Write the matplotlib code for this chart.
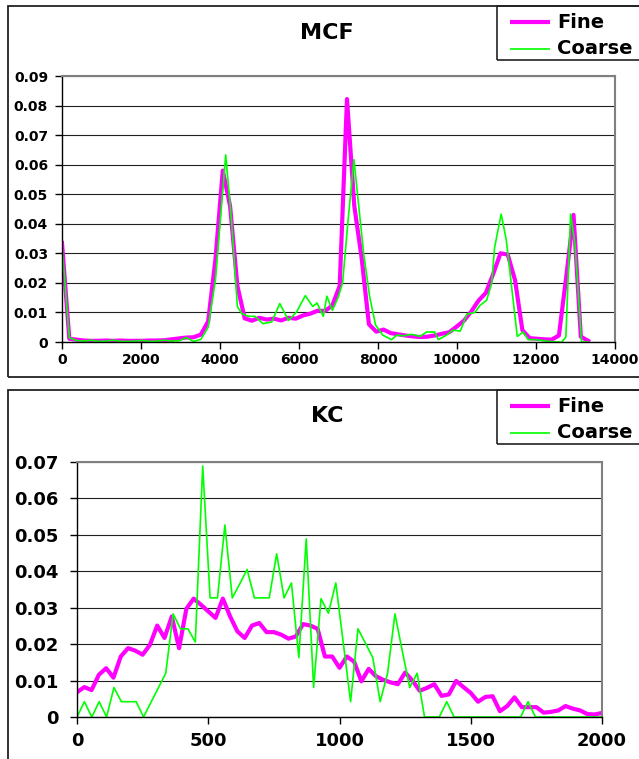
import numpy as np
import matplotlib
matplotlib.use('Agg')
import matplotlib.pyplot as plt
from matplotlib.patches import Rectangle
from matplotlib.lines import Line2D

# ---------------- data: MCF ----------------
mcf_fine_x = np.arange(0, 13321, 185)
mcf_fine = [0.0335, 0.0011, 0.0008, 0.0005, 0.0004, 0.0004, 0.0005, 0.0004, 0.0005, 0.0004,
            0.0004, 0.0004, 0.0005, 0.0005, 0.0006, 0.0009, 0.0012, 0.0015, 0.0016, 0.0025,
            0.0070, 0.0280, 0.0580, 0.0460, 0.0190, 0.0080, 0.0072, 0.0082, 0.0076, 0.0079,
            0.0073, 0.0082, 0.0079, 0.0090, 0.0096, 0.0106, 0.0105, 0.0124, 0.0190, 0.0822,
            0.0460, 0.0285, 0.0060, 0.0035, 0.0042, 0.0030, 0.0026, 0.0022, 0.0019, 0.0017,
            0.0018, 0.0022, 0.0028, 0.0033, 0.0052, 0.0072, 0.0103, 0.0140, 0.0166, 0.0230,
            0.0300, 0.0296, 0.0209, 0.0040, 0.0013, 0.0011, 0.0009, 0.0008, 0.0022, 0.0220,
            0.0430, 0.0018, 0.0004]
mcf_coarse_x = [0, 185, 370, 555, 740, 925, 1110, 1295, 1480, 1665, 1850, 2035, 2220, 2405,
                2590, 2775, 2960, 3145, 3330, 3515, 3700, 3885, 4144, 4292, 4440, 4551, 4718,
                4884, 5088, 5310, 5513, 5735, 5939, 6161, 6346, 6457, 6614, 6706, 6845, 6993,
                7104, 7234, 7391, 7493, 7641, 7789, 7937, 8122, 8344, 8473, 8658, 8843, 9065,
                9232, 9435, 9528, 9731, 9898, 10083, 10249, 10453, 10582, 10749, 10878, 10952,
                11119, 11248, 11526, 11674, 11803, 12007, 12266, 12525, 12654, 12756, 12876,
                12987, 13154, 13320]
mcf_coarse = [0.0325, 0.0015, 0.0005, 0.0003, 0.0006, 0.0002, 0.0003, 0.0006, 0.0002, 0.0002,
              0.0003, 0.0005, 0.0002, 0.0003, 0.0006, 0.0003, 0.0004, 0.0015, 0.0002, 0.0009,
              0.0050, 0.0210, 0.0633, 0.0410, 0.0120, 0.0096, 0.0087, 0.0087, 0.0062, 0.0068,
              0.0130, 0.0073, 0.0102, 0.0157, 0.0120, 0.0132, 0.0087, 0.0155, 0.0107, 0.0152,
              0.0200, 0.0400, 0.0617, 0.0485, 0.0295, 0.0153, 0.0058, 0.0023, 0.0008, 0.0023,
              0.0021, 0.0026, 0.0019, 0.0034, 0.0034, 0.0008, 0.0023, 0.0040, 0.0037, 0.0094,
              0.0100, 0.0124, 0.0141, 0.0198, 0.0320, 0.0433, 0.0345, 0.0019, 0.0034, 0.0008,
              0.0008, 0.0003, 0.0000, 0.0000, 0.0017, 0.0433, 0.0330, 0.0000, 0.0000]
mcf_xticks = [0, 2000, 4000, 6000, 8000, 10000, 12000, 14000]
mcf_yticks = [0, 0.01, 0.02, 0.03, 0.04, 0.05, 0.06, 0.07, 0.08, 0.09]
mcf_ylabels = ['0', '0.01', '0.02', '0.03', '0.04', '0.05', '0.06', '0.07', '0.08', '0.09']

# ---------------- data: KC ----------------
kc_fine_x = np.linspace(0, 2000, 73)
kc_fine = [0.0068, 0.0082, 0.0074, 0.0116, 0.0134, 0.0108, 0.0166, 0.0189, 0.0182, 0.0171,
           0.0198, 0.0251, 0.0217, 0.0276, 0.0189, 0.0297, 0.0325, 0.0308, 0.0290, 0.0272,
           0.0325, 0.0276, 0.0235, 0.0217, 0.0251, 0.0258, 0.0233, 0.0233, 0.0226, 0.0215,
           0.0221, 0.0255, 0.0251, 0.0242, 0.0166, 0.0166, 0.0135, 0.0166, 0.0152, 0.0098,
           0.0132, 0.0112, 0.0102, 0.0095, 0.0090, 0.0122, 0.0100, 0.0072, 0.0080, 0.0090,
           0.0058, 0.0062, 0.0099, 0.0082, 0.0066, 0.0042, 0.0055, 0.0057, 0.0016, 0.0030,
           0.0054, 0.0027, 0.0027, 0.0027, 0.0012, 0.0014, 0.0018, 0.0030, 0.0023, 0.0018,
           0.0008, 0.0007, 0.0011]
kc_coarse_x = np.linspace(0, 2000, 72)
kc_coarse = [0.0, 0.0042, 0.0, 0.0042, 0.0, 0.0081, 0.0042, 0.0042, 0.0042, 0.0,
             0.0040, 0.0080, 0.0120, 0.0283, 0.0242, 0.0242, 0.0206, 0.0689, 0.0327, 0.0327,
             0.0527, 0.0327, 0.0365, 0.0405, 0.0327, 0.0327, 0.0327, 0.0448, 0.0327, 0.0368,
             0.0163, 0.0489, 0.0081, 0.0325, 0.0285, 0.0368, 0.0205, 0.0042, 0.0242, 0.0203,
             0.0163, 0.0042, 0.0120, 0.0283, 0.0180, 0.0081, 0.0120, 0.0, 0.0, 0.0,
             0.0042, 0.0, 0.0, 0.0, 0.0, 0.0, 0.0, 0.0, 0.0, 0.0,
             0.0, 0.0042, 0.0, 0.0, 0.0, 0.0, 0.0, 0.0, 0.0, 0.0,
             0.0, 0.0]
kc_xticks = [0, 500, 1000, 1500, 2000]
kc_yticks = [0, 0.01, 0.02, 0.03, 0.04, 0.05, 0.06, 0.07]
kc_ylabels = ['0', '0.01', '0.02', '0.03', '0.04', '0.05', '0.06', '0.07']

series_labels = ['Fine', 'Coarse']
FINE_C = '#FF00FF'
COARSE_C = '#00FF00'

# ---------------- figure ----------------
W, H = 639, 759
fig = plt.figure(figsize=(W / 100, H / 100), dpi=100)
plt.rcParams['font.family'] = ['DejaVu Sans']


def fx(x):
    return x / W


def fy(y):
    return 1 - y / H


def rect_px(x0, y0, x1, y1, **kw):
    r = Rectangle((fx(x0), fy(y1)), fx(x1) - fx(x0), fy(y0) - fy(y1),
                  transform=fig.transFigure, fill=False, **kw)
    fig.add_artist(r)


def legend_px(top):
    rect_px(497, top, 700, top + 54, edgecolor='#222222', lw=1.2)
    for k, (lab, col, lw) in enumerate([(series_labels[0], FINE_C, 3.0),
                                        (series_labels[1], COARSE_C, 1.2)]):
        yy = top + 16 + 27 * k
        fig.add_artist(Line2D([fx(510), fx(550)], [fy(yy), fy(yy)],
                              transform=fig.transFigure, color=col, lw=lw,
                              solid_capstyle='butt'))
        fig.text(fx(557), fy(yy), lab, fontsize=14, fontweight='bold',
                 va='center', ha='left')


def style_axes(ax, tick_fs, ticklen, ypad, xpad):
    ax.set_facecolor('white')
    for s in ('left', 'bottom'):
        ax.spines[s].set_color('black')
        ax.spines[s].set_linewidth(1.0)
    for s in ('top', 'right'):
        ax.spines[s].set_color('#808080')
        ax.spines[s].set_linewidth(1.5)
    ax.yaxis.grid(True, color='#202020', lw=0.8)
    ax.set_axisbelow(True)
    ax.tick_params(axis='both', direction='out', length=ticklen, width=1.0,
                   color='black', labelsize=tick_fs)
    ax.tick_params(axis='y', pad=ypad)
    ax.tick_params(axis='x', pad=xpad)
    for lbl in ax.get_xticklabels() + ax.get_yticklabels():
        lbl.set_fontweight('bold')


# outer frames
rect_px(8, 6, 700, 377, edgecolor='#222222', lw=1.3)
rect_px(8, 390, 700, 800, edgecolor='#222222', lw=1.3)

# ---- top chart MCF ----
ax1 = fig.add_axes([fx(62), fy(342), fx(615) - fx(62), fy(76) - fy(342)])
ax1.plot(mcf_fine_x, mcf_fine, color=FINE_C, lw=3.0, solid_joinstyle='round')
ax1.plot(mcf_coarse_x, mcf_coarse, color=COARSE_C, lw=1.2)
ax1.set_xlim(0, 14000)
ax1.set_ylim(0, 0.09)
ax1.set_xticks(mcf_xticks)
ax1.set_xticklabels([str(t) for t in mcf_xticks])
ax1.set_yticks(mcf_yticks)
ax1.set_yticklabels(mcf_ylabels)
style_axes(ax1, 10, 5, 5, 3)
fig.text(fx(327), fy(33), 'MCF', fontsize=16, fontweight='bold', ha='center', va='center')
legend_px(6)

# ---- bottom chart KC ----
ax2 = fig.add_axes([fx(77), fy(717), fx(602) - fx(77), fy(462) - fy(717)])
ax2.plot(kc_fine_x, kc_fine, color=FINE_C, lw=3.0, solid_joinstyle='round')
ax2.plot(kc_coarse_x, kc_coarse, color=COARSE_C, lw=1.2)
ax2.set_xlim(0, 2000)
ax2.set_ylim(0, 0.07)
ax2.set_xticks(kc_xticks)
ax2.set_xticklabels([str(t) for t in kc_xticks])
ax2.set_yticks(kc_yticks)
ax2.set_yticklabels(kc_ylabels)
style_axes(ax2, 13, 5, 8, 6)
fig.text(fx(327), fy(416), 'KC', fontsize=16, fontweight='bold', ha='center', va='center')
legend_px(390)

fig.savefig('out.png', dpi=100, facecolor='white')
